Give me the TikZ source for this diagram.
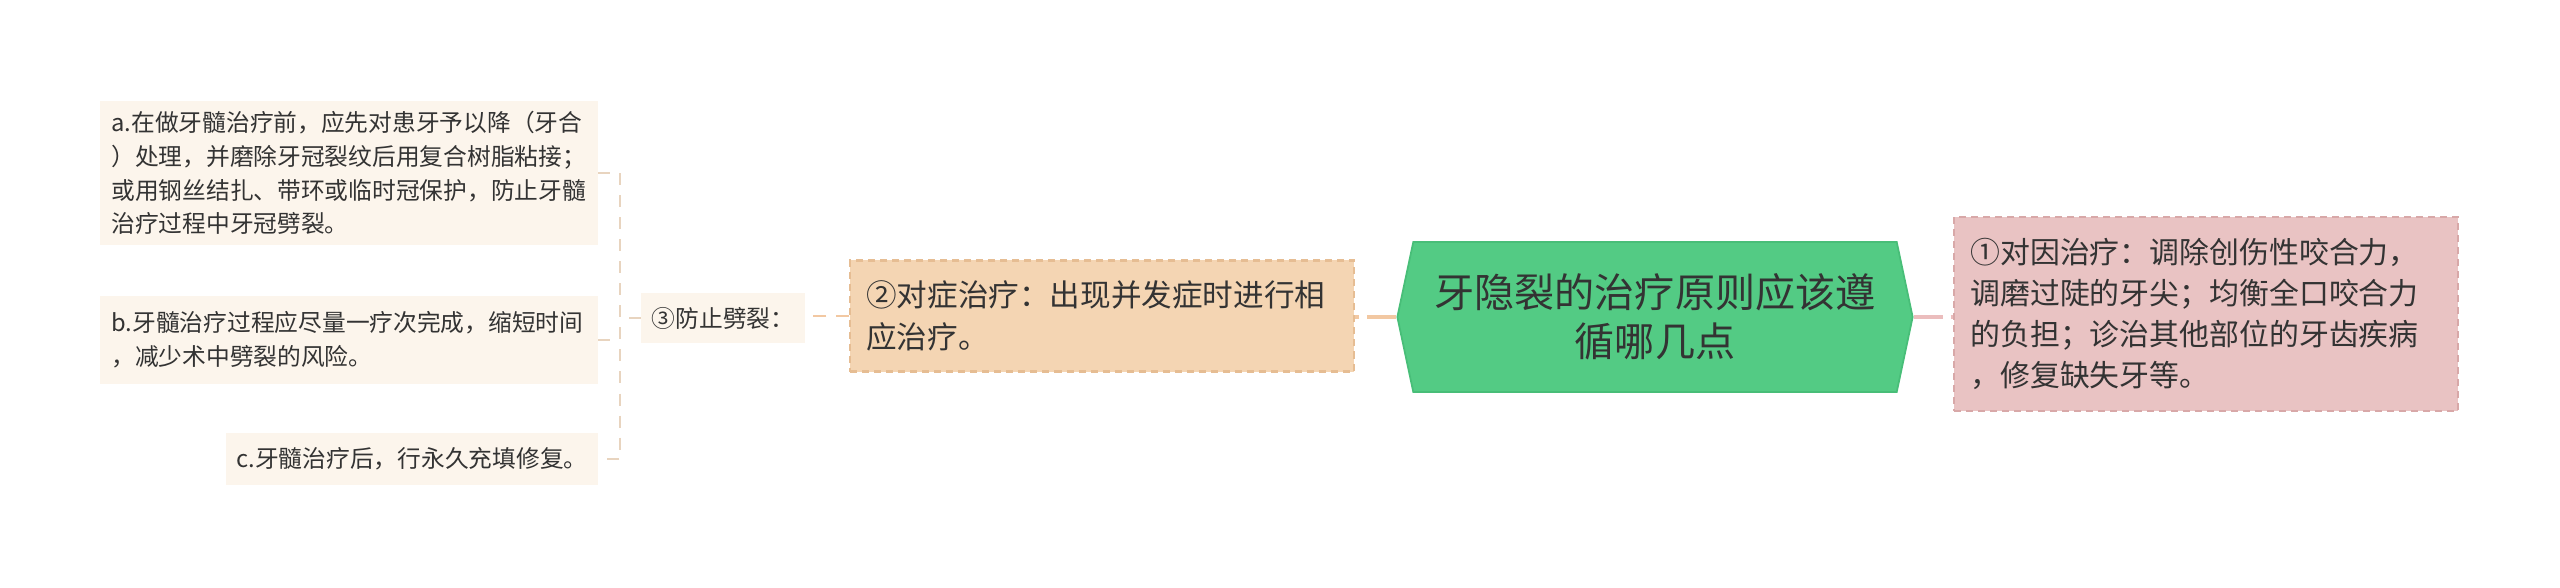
\documentclass[tikz,border=0pt]{standalone}
\usepackage{fontspec}
\setmainfont{Noto Sans CJK SC}
\usetikzlibrary{shapes.symbols}
\definecolor{rootgreen}{HTML}{53CB84}
\definecolor{rootedge}{HTML}{48BE78}
\definecolor{causepink}{HTML}{E9C3C3}
\definecolor{causeedge}{HTML}{D8A8A8}
\definecolor{sympeach}{HTML}{F4D5B3}
\definecolor{sympedge}{HTML}{E6BD93}
\definecolor{leafcream}{HTML}{FCF5EC}
\definecolor{ink}{HTML}{333333}
\definecolor{linkpink}{HTML}{EBBDBD}
\definecolor{linkpeach}{HTML}{F2C8A2}
\definecolor{linkcream}{HTML}{E8D4BF}
\begin{document}
\begin{tikzpicture}[x=0.01cm,y=-0.01cm,
		dashline/.style={dash pattern=on 0.07cm off 0.05cm},
		longdash/.style={dash pattern=on 0.29cm off 0.08cm},
		root/.style={shape=signal, signal to=west and east, signal pointer angle=156,
			fill=rootgreen, draw=rootedge, line width=0.5pt, text=ink, align=center,
			minimum width=5.15cm, minimum height=1.5cm, inner sep=0pt,
			font=\fontsize{11.4}{14}\selectfont},
		branch/.style={dashline, line width=0.6pt, text=ink, align=left, inner xsep=0.16cm,
			text width=4.71cm},
		leaf/.style={fill=leafcream, text=ink, align=left, inner sep=0pt,
			font=\fontsize{6.75}{9.6}\selectfont}]
	\useasboundingbox (0,0) rectangle (2560,587);
	\node [root] (root) at (1655,317) {牙隐裂的治疗原则应该遵\\循哪几点};
	\node [branch, fill=causepink, draw=causeedge, minimum height=1.94cm,
		font=\fontsize{8.5}{11.6}\selectfont] (cause) at (2206,314)
		{①对因治疗：调除创伤性咬合力，\\调磨过陡的牙尖；均衡全口咬合力\\的负担；诊治其他部位的牙齿疾病\\，修复缺失牙等。};
	\node [branch, fill=sympeach, draw=sympedge, minimum height=1.11cm,
		font=\fontsize{8.7}{12}\selectfont] (symp) at (1102,316)
		{②对症治疗：出现并发症时进行相\\应治疗。};
	\node [leaf, align=center, minimum width=1.63cm, minimum height=0.49cm] (split) at (723,318) {③防止劈裂：};
	\node [leaf, text width=4.75cm, inner xsep=0.11cm, minimum height=1.44cm] (a) at (349,173)
		{a.在做牙髓治疗前，应先对患牙予以降（牙合\\）处理，并磨除牙冠裂纹后用复合树脂粘接；\\或用钢丝结扎、带环或临时冠保护，防止牙髓\\治疗过程中牙冠劈裂。};
	\node [leaf, text width=4.75cm, inner xsep=0.11cm, minimum height=0.87cm] (b) at (349,340)
		{b.牙髓治疗过程应尽量一疗次完成，缩短时间\\，减少术中劈裂的风险。};
	\node [leaf, align=center, minimum width=3.71cm, minimum height=0.52cm] (c) at (412,459)
		{c.牙髓治疗后，行永久充填修复。};
	\coordinate (j) at (620,318);
	\draw [linkpink, line width=1.1pt, longdash] (root.east) -- (cause.west |- root.east);
	\draw [linkpeach, line width=1.1pt, longdash] (root.west) -- (symp.east |- root.west);
	\draw [linkpeach, line width=0.8pt, dash pattern=on 0.13cm off 0.1cm] (symp.west) -- (split.east |- symp.west);
	\draw [linkcream, line width=0.6pt, dash pattern=on 0.12cm off 0.1cm] (split.west) -- (j)
		(a.east) -- (a.east -| j) -- (c.east -| j) -- (c.east)
		(b.east) -- (b.east -| j);
\end{tikzpicture}
\end{document}
